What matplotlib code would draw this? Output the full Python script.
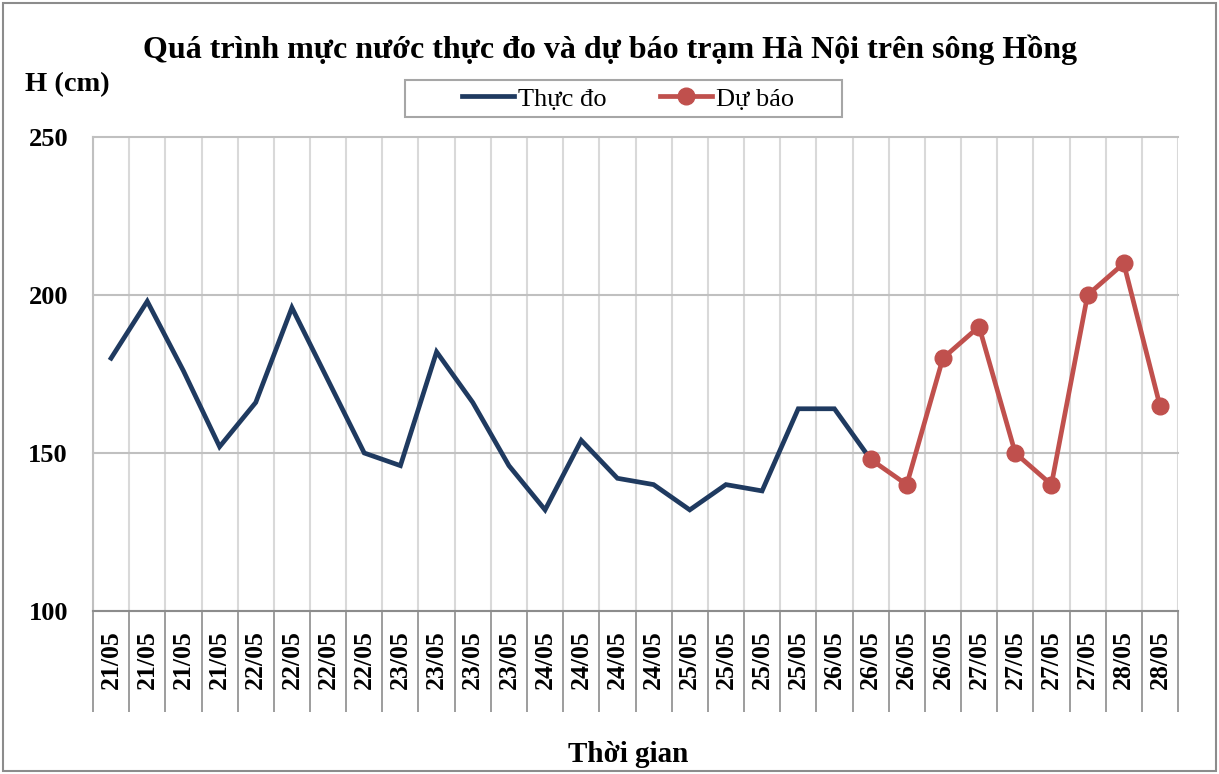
import numpy as np
import matplotlib.pyplot as plt
from matplotlib.patches import Rectangle

plt.rcParams['font.family'] = ['Liberation Serif', 'DejaVu Serif']

labels = ['21/05', '21/05', '21/05', '21/05', '22/05', '22/05', '22/05', '22/05',
          '23/05', '23/05', '23/05', '23/05', '24/05', '24/05', '24/05', '24/05',
          '25/05', '25/05', '25/05', '25/05', '26/05', '26/05', '26/05', '26/05',
          '27/05', '27/05', '27/05', '27/05', '28/05', '28/05']

# measured water level (cm), first 22 time steps
thuc_do = [180, 198, 176, 152, 166, 196, 173, 150, 146, 182, 166, 146, 132, 154,
           142, 140, 132, 140, 138, 164, 164, 148]
# forecast starts at the last measured step
du_bao = [148, 140, 180, 190, 150, 140, 200, 210, 165]

x = np.arange(len(labels))
x_obs = x[:len(thuc_do)]
x_fc = x[len(thuc_do) - 1:]

W, H = 1219, 774
fig = plt.figure(figsize=(W / 100, H / 100), dpi=100)
ax = fig.add_axes([93 / W, 1 - 611 / H, (1178 - 93) / W, (611 - 137) / H])

ax.plot(x_obs, thuc_do, color='#1F3A60', lw=3.4, label='Thực đo', zorder=3,
        solid_joinstyle='miter')
ax.plot(x_fc, du_bao, color='#C0504D', lw=3.4, marker='o', ms=12, label='Dự báo',
        zorder=4)

ax.set_xlim(-0.5, len(labels) - 0.5)
ax.set_ylim(100, 250)
ax.set_yticks([100, 150, 200, 250])
ax.set_xticks(x)
ax.set_xticklabels(labels, rotation=90, fontweight='bold', fontsize=18.5)
ax.set_xticks(np.arange(-0.5, len(labels)), minor=True)

ax.tick_params(axis='x', which='major', length=0, pad=14)
ax.tick_params(axis='x', which='minor', length=73, width=1.2, color='#8C8C8C',
               direction='out')
ax.tick_params(axis='y', length=0, pad=18, labelsize=19)
for t in ax.get_yticklabels():
    t.set_fontweight('bold')

ax.grid(True, axis='x', which='minor', color='#D9D9D9', lw=1.5)
ax.grid(True, axis='y', which='major', color='#C0C0C0', lw=1.5)
ax.grid(False, axis='x', which='major')
for gl in ax.get_ygridlines():
    gl.set_clip_on(False)

for s in ['top', 'right']:
    ax.spines[s].set_visible(False)
ax.spines['left'].set_color('#C0C0C0')
ax.spines['left'].set_linewidth(1.5)
ax.spines['bottom'].set_color('#8C8C8C')
ax.spines['bottom'].set_linewidth(1.5)

fig.text(610 / W, 1 - 50 / H, 'Quá trình mực nước thực đo và dự báo trạm Hà Nội trên sông Hồng',
         ha='center', va='center', fontsize=23, fontweight='bold')
fig.text(25 / W, 1 - 85 / H, 'H (cm)', ha='left', va='center', fontsize=20.5,
         fontweight='bold')
fig.text(628 / W, 1 - 755 / H, 'Thời gian', ha='center', va='center', fontsize=21,
         fontweight='bold')

# legend frame drawn separately (Excel leaves wide margins)
fig.patches.append(Rectangle((405 / W, 1 - 117 / H), 437 / W, 37 / H, fill=False,
                             edgecolor='#A6A6A6', lw=1.5, transform=fig.transFigure))
fig.legend(loc='center', bbox_to_anchor=(628 / W, 1 - 99 / H), ncol=2,
           fontsize=19, frameon=False, handlelength=2.0, handletextpad=0.15,
           columnspacing=2.0, borderpad=0.1)

fig.patches.append(Rectangle((3 / W, 3 / H), 1213 / W, 768 / H, fill=False,
                             edgecolor='#8C8C8C', lw=1.5, transform=fig.transFigure))

fig.savefig('out.png', dpi=100)
